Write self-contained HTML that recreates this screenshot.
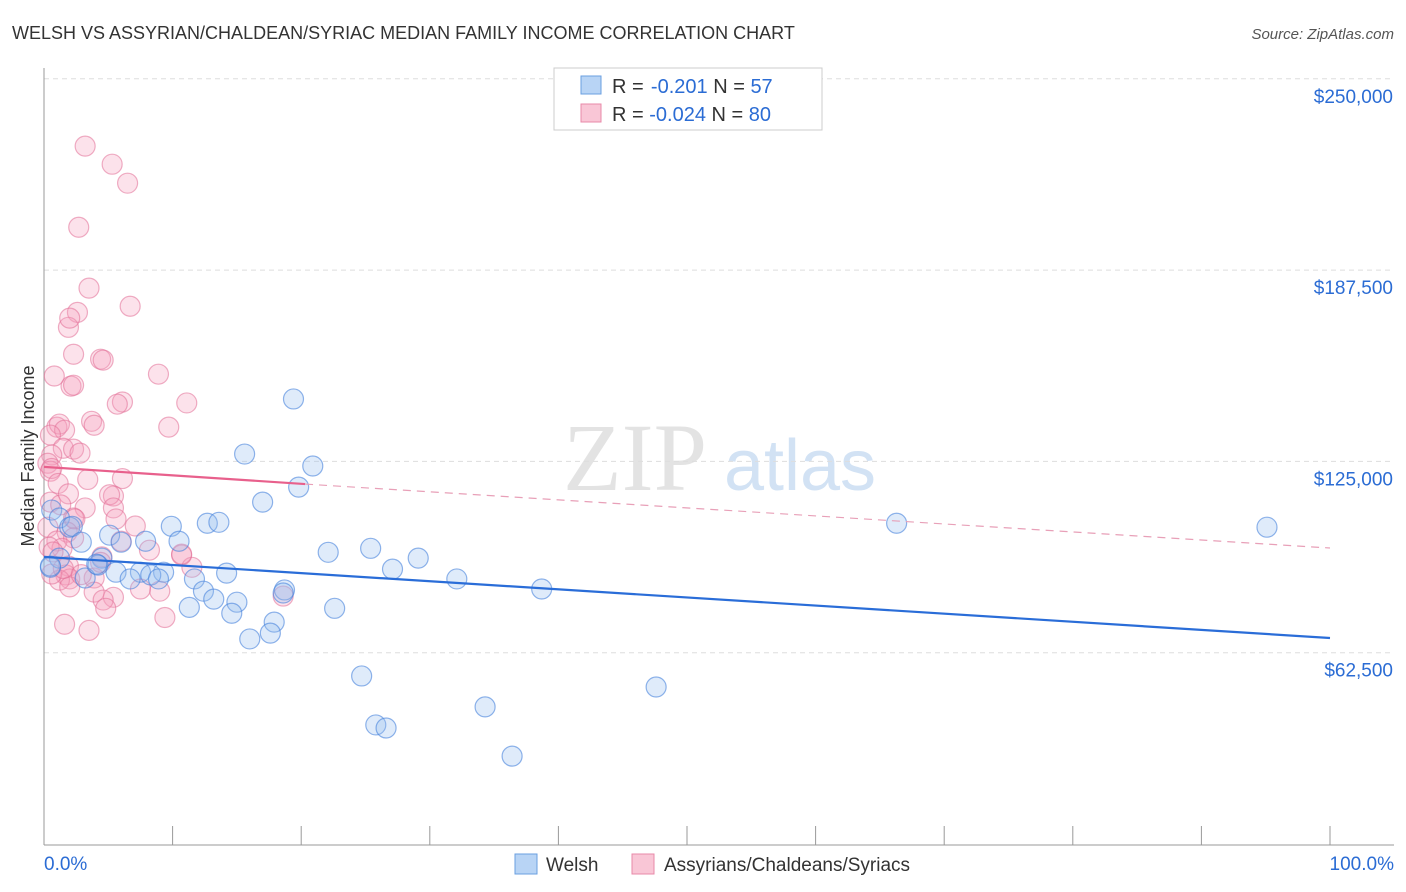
<!DOCTYPE html>
<html><head><meta charset="utf-8"><style>
body{margin:0;background:#fff;font-family:"Liberation Sans",sans-serif}
svg{display:block}
</style></head><body>
<svg id="c" width="1406" height="892">
<text x="12" y="39" font-size="18" fill="#333">WELSH VS ASSYRIAN/CHALDEAN/SYRIAC MEDIAN FAMILY INCOME CORRELATION CHART</text>
<text x="1394" y="39" font-size="15" fill="#555" text-anchor="end" font-style="italic">Source: ZipAtlas.com</text>
<text transform="translate(34,456) rotate(-90)" font-size="18" fill="#333" text-anchor="middle">Median Family Income</text>
<g><text x="635" y="490" font-size="96" fill="#ddd" font-family="Liberation Serif" text-anchor="middle" opacity="0.8">ZIP</text><text x="800" y="490" font-size="72" fill="#c8dcf2" text-anchor="middle" opacity="0.8">atlas</text></g>
<g id="grid"></g><g id="pts"></g><g id="lines"></g>
<g>
<rect x="554" y="68" width="268" height="62" fill="#fff" stroke="#ccc"/>
<rect x="581" y="76" width="20" height="18" fill="#b8d4f5" stroke="#6a9fe0"/>
<rect x="581" y="104" width="20" height="18" fill="#f9c6d6" stroke="#e889a8"/>
<text x="612" y="93" font-size="20" fill="#333">R = <tspan fill="#2b6cd4">&#8202;-0.201</tspan>   N = <tspan fill="#2b6cd4">57</tspan></text>
<text x="612" y="121" font-size="20" fill="#333">R = <tspan fill="#2b6cd4">-0.024</tspan>   N = <tspan fill="#2b6cd4">80</tspan></text>
</g>
<g>
<rect x="515" y="854" width="22" height="20" fill="#b8d4f5" stroke="#6a9fe0"/>
<text x="546" y="871" font-size="19" fill="#333">Welsh</text>
<rect x="632" y="854" width="22" height="20" fill="#f9c6d6" stroke="#e889a8"/>
<text x="664" y="871" font-size="19" fill="#333">Assyrians/Chaldeans/Syriacs</text>
</g>
<text x="44" y="870" font-size="19" fill="#2b6cd4">0.0%</text>
<text x="1394" y="870" font-size="19" fill="#2b6cd4" text-anchor="end">100.0%</text>
</svg>
<script>
const yTicks=[62500,125000,187500,250000];
const yTickLabels=["$62,500","$125,000","$187,500","$250,000"];
const welshX=[19.4,15.6,20.9,19.8,17.0,0.6,1.2,2.0,2.2,9.9,12.7,13.6,66.3,95.1,5.1,2.9,6.0,10.5,7.9,22.1,25.4,29.1,1.2,4.5,0.5,4.2,5.6,7.5,27.1,9.3,3.2,6.7,8.3,8.9,11.7,14.2,32.1,38.7,18.7,18.6,12.4,13.2,15.0,11.3,22.6,14.6,17.9,17.6,16.0,24.7,47.6,25.8,26.6,34.3,36.4,0.5,4.1];
const welshY=[145.4,127.4,123.5,116.6,111.7,109.1,106.5,103.5,103.8,103.8,104.8,105.1,104.8,103.5,100.9,98.6,98.6,98.9,98.9,95.3,96.6,93.4,93.4,93.4,90.4,91.1,88.8,88.8,89.8,88.8,86.9,86.6,87.9,86.6,86.6,88.5,86.6,83.3,83.0,82.0,82.6,80.0,79.0,77.3,77.0,75.4,72.5,68.9,67.0,54.9,51.3,38.9,37.9,44.8,28.7,90.8,91.4];
const assyrX=[3.2,5.3,6.5,2.7,3.5,6.7,2.6,1.9,2.0,2.3,4.4,4.6,8.9,2.1,2.3,0.8,6.1,5.7,11.1,3.7,3.9,9.7,1.0,1.2,1.6,0.5,1.5,2.3,2.8,0.6,0.3,0.5,0.6,3.4,1.1,6.1,1.9,5.4,5.1,0.5,1.3,3.2,5.4,2.3,2.4,5.6,7.1,0.3,1.8,1.0,2.3,6.0,1.4,0.4,10.7,4.5,0.7,11.5,1.9,1.7,2.0,3.9,1.2,3.9,9.0,5.4,4.6,2.0,4.8,1.6,3.5,7.5,0.6,10.7,18.6,1.5,2.9,4.4,8.2,9.4];
const assyrY=[228.0,222.1,215.9,201.5,181.6,175.7,173.7,168.8,171.8,160.0,158.4,158.1,153.5,149.6,149.9,152.9,144.4,143.7,144.1,138.1,136.8,136.2,136.2,137.2,135.2,133.6,129.3,129.0,127.7,127.1,124.4,121.8,122.7,119.1,117.8,119.4,114.4,113.7,114.1,111.7,110.8,109.8,109.8,106.5,106.2,106.2,103.9,103.5,101.9,99.0,100.0,98.9,96.6,97.0,94.4,93.8,95.4,90.4,90.8,87.9,86.6,86.9,86.2,82.3,82.6,80.6,79.7,84.0,77.0,71.8,69.8,83.3,88.2,94.7,81.0,90.0,88.0,92.0,96.0,74.0];
const welshTrend=[93.8,67.3];
const assyrTrendSolid=[123.2,117.6,20.3];
const assyrTrendDash=[96.7];
const X=p=>44+p/100*1286;
const Y=v=>844-v/62500*191.3;
const NS="http://www.w3.org/2000/svg";
function mk(t,a,parent){const e=document.createElementNS(NS,t);for(const k in a)e.setAttribute(k,a[k]);parent.appendChild(e);return e;}
const grid=document.getElementById('grid');
yTicks.forEach((v,i)=>{
 const l=mk('line',{x1:44,x2:1394,y1:Y(v),y2:Y(v),stroke:'#ddd','stroke-dasharray':'5,4'},grid);
 
 
 const t=mk('text',{x:1393,y:Y(v)+24,'font-size':19,fill:'#2b6cd4','text-anchor':'end'},grid);
 t.textContent=yTickLabels[i];
 
 
});
const ax=mk('line',{x1:44,x2:44,y1:68,y2:845,stroke:'#999'},grid);


const bx=mk('line',{x1:44,x2:1394,y1:845,y2:845,stroke:'#999'},grid);


for(let i=1;i<=10;i++){const px=44+i*128.6;const tk=mk('line',{x1:px,x2:px,y1:826,y2:845,stroke:'#999'},grid);
 
 }
const pts=document.getElementById('pts');
assyrX.forEach((x,i)=>{const c=mk('circle',{cx:X(x),cy:Y(assyrY[i]*1000),r:10,fill:'rgba(244,160,188,0.3)',stroke:'rgba(226,110,150,0.55)','stroke-width':1.2},pts);
 
 });
welshX.forEach((x,i)=>{const c=mk('circle',{cx:X(x),cy:Y(welshY[i]*1000),r:10,fill:'rgba(150,190,240,0.3)',stroke:'rgba(70,130,220,0.6)','stroke-width':1.2},pts);
 
 });
const lines=document.getElementById('lines');
const wl=mk('line',{x1:X(0),y1:Y(welshTrend[0]*1000),x2:X(100),y2:Y(welshTrend[1]*1000),stroke:'#2a6dd8','stroke-width':2.2},lines);


const pl=mk('line',{x1:X(0),y1:Y(assyrTrendSolid[0]*1000),x2:X(assyrTrendSolid[2]),y2:Y(assyrTrendSolid[1]*1000),stroke:'#e8608c','stroke-width':2.2},lines);


const pd=mk('line',{x1:X(assyrTrendSolid[2]),y1:Y(assyrTrendSolid[1]*1000),x2:X(100),y2:Y(assyrTrendDash[0]*1000),stroke:'#e8a0b8','stroke-width':1.2,'stroke-dasharray':'8,6'},lines);


</script>
</body></html>
